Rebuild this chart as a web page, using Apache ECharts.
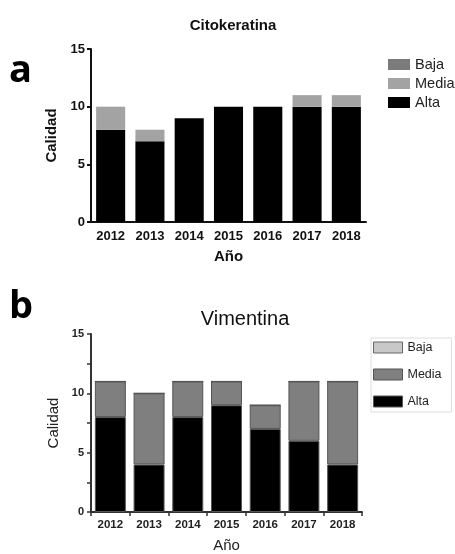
<!DOCTYPE html>
<html><head><meta charset="utf-8">
<script src="https://cdn.jsdelivr.net/npm/echarts@6/dist/echarts.min.js"></script>
<style>html,body{margin:0;padding:0;background:#fff}#c{width:455px;height:554px}</style>
</head><body><div id="c"></div>
<script>
var years = ['2012','2013','2014','2015','2016','2017','2018'];
var citoAlta  = [8, 7, 9, 10, 10, 10, 10];
var citoMedia = [2, 1, 0, 0, 0, 1, 1];
var citoBaja  = [0, 0, 0, 0, 0, 0, 0];
var vimAlta  = [8, 4, 8, 9, 7, 6, 4];
var vimMedia = [3, 6, 3, 2, 2, 5, 7];
var vimBaja  = [0, 0, 0, 0, 0, 0, 0];
var yTicks = [0, 5, 10, 15];

var F = '"Liberation Sans", Arial, sans-serif';
var chart = echarts.init(document.getElementById('c'), null, {renderer:'canvas'});
var colA = {Baja:'#7b7b7b', Media:'#a3a3a3', Alta:'#000000'};
var colB = {Baja:'#c8c8c8', Media:'#7f7f7f', Alta:'#000000'};

function yLabel(v){ return yTicks.indexOf(v) >= 0 ? String(v) : ''; }

chart.setOption({
  animation:false,
  title:[
    {text:'Citokeratina', left:228, top:13, textAlign:'center', textStyle:{fontFamily:F, fontWeight:'bold', fontSize:15, color:'#111'}},
    {text:'Vimentina', left:240, top:304, textAlign:'center', textStyle:{fontFamily:F, fontWeight:'normal', fontSize:20, color:'#111'}}
  ],
  graphic:[
    {type:'text', left:9, top:52, style:{text:'a', font:'bold 38px "Open Sans", sans-serif', fill:'#000'}},
    {type:'text', left:9, top:288, style:{text:'b', font:'bold 38px "Open Sans", sans-serif', fill:'#000'}}
  ],
  legend:[
    {orient:'vertical', left:383, top:52, itemWidth:22, itemHeight:11, itemGap:4, icon:'rect',
     textStyle:{fontFamily:F, fontSize:14.5, color:'#222'}, selectedMode:false,
     data:[{name:'Baja', itemStyle:{color:colA.Baja, borderWidth:0}},{name:'Media', itemStyle:{color:colA.Media, borderWidth:0}},{name:'Alta', itemStyle:{color:colA.Alta, borderWidth:0}}]},
    {orient:'vertical', left:371, top:338, itemWidth:29, itemHeight:11, itemGap:14, icon:'rect',
     padding:[3,10,4,2], borderColor:'#ddd', borderWidth:1,
     textStyle:{fontFamily:F, fontSize:12.5, color:'#222'}, selectedMode:false,
     data:[{name:'Baja', itemStyle:{color:colB.Baja, borderColor:'#666', borderWidth:1}},{name:'Media', itemStyle:{color:colB.Media, borderColor:'#555', borderWidth:1}},{name:'Alta', itemStyle:{color:colB.Alta, borderColor:'#555', borderWidth:1}}]}
  ],
  grid:[
    {left:91, top:49, width:275, height:173},
    {left:91, top:334, width:271, height:186}
  ],
  xAxis:[
    {gridIndex:0, type:'category', data:years, name:'Año', nameLocation:'middle', nameGap:27,
     nameTextStyle:{fontFamily:F, fontWeight:'bold', fontSize:15, color:'#111'},
     axisLine:{lineStyle:{color:'#111', width:2}}, axisTick:{show:false},
     axisLabel:{fontFamily:F, fontWeight:'bold', fontSize:13, color:'#111', margin:8}},
    {gridIndex:1, type:'category', data:years, name:'Año', nameLocation:'middle', nameGap:26,
     nameTextStyle:{fontFamily:F, fontWeight:'normal', fontSize:15, color:'#222'},
     axisLine:{lineStyle:{color:'#333', width:2}}, axisTick:{show:true, inside:false, length:4, lineStyle:{color:'#333', width:1.5}},
     axisLabel:{fontFamily:F, fontWeight:'bold', fontSize:11.5, color:'#222', margin:7}}
  ],
  yAxis:[
    {gridIndex:0, type:'value', min:0, max:15, interval:5, name:'Calidad', nameLocation:'middle', nameGap:26,
     nameTextStyle:{fontFamily:F, fontWeight:'bold', fontSize:15, color:'#111'},
     axisLine:{show:true, lineStyle:{color:'#111', width:2}}, axisTick:{show:true, length:4, lineStyle:{color:'#111', width:2}},
     splitLine:{show:false},
     axisLabel:{fontFamily:F, fontWeight:'bold', fontSize:13, color:'#111', margin:6}},
    {gridIndex:1, type:'value', min:0, max:15, interval:2.5, name:'Calidad', nameLocation:'middle', nameGap:22,
     nameTextStyle:{fontFamily:F, fontWeight:'normal', fontSize:15, color:'#222'},
     axisLine:{show:true, lineStyle:{color:'#333', width:2}}, axisTick:{show:true, length:4, lineStyle:{color:'#333', width:1.5}},
     splitLine:{show:false},
     axisLabel:{fontFamily:F, fontWeight:'bold', fontSize:11, color:'#222', margin:7, formatter:yLabel}}
  ],
  series:[
    {name:'Alta', type:'bar', stack:'a', xAxisIndex:0, yAxisIndex:0, data:citoAlta, barCategoryGap:'26%', itemStyle:{color:colA.Alta}},
    {name:'Media', type:'bar', stack:'a', xAxisIndex:0, yAxisIndex:0, data:citoMedia, itemStyle:{color:colA.Media}},
    {name:'Baja', type:'bar', stack:'a', xAxisIndex:0, yAxisIndex:0, data:citoBaja, itemStyle:{color:colA.Baja}},
    {name:'Alta', type:'bar', stack:'b', xAxisIndex:1, yAxisIndex:1, data:vimAlta, barCategoryGap:'20%', itemStyle:{color:colB.Alta, borderColor:'#555', borderWidth:1}},
    {name:'Media', type:'bar', stack:'b', xAxisIndex:1, yAxisIndex:1, data:vimMedia, itemStyle:{color:colB.Media, borderColor:'#555', borderWidth:1}},
    {name:'Baja', type:'bar', stack:'b', xAxisIndex:1, yAxisIndex:1, data:vimBaja, itemStyle:{color:colB.Baja, borderColor:'#555', borderWidth:1}}
  ]
});
</script></body></html>
